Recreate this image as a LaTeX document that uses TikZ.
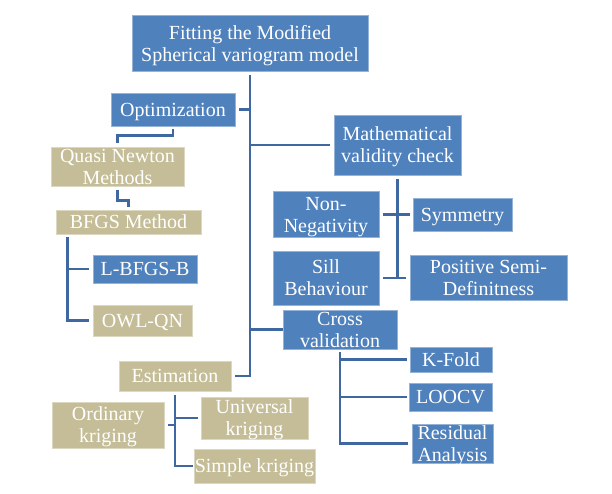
\documentclass[tikz,border=0pt]{standalone}
\usepackage{fontspec}
\setmainfont{Liberation Serif}
\definecolor{bluebox}{RGB}{79,129,189}
\definecolor{tanbox}{RGB}{196,189,151}
\definecolor{linkc}{RGB}{63,104,160}
\begin{document}
\begin{tikzpicture}[x=1pt,y=-1pt,
  base/.style={rectangle,inner sep=0pt,align=center,text=white,text depth=0pt,
    font=\fontsize{20}{22}\selectfont,line width=0.8pt},
  bb/.style={base,fill=bluebox,draw=bluebox!60!white},
  tb/.style={base,fill=tanbox,draw=tanbox!60!white},
  link/.style={draw=linkc,line width=2.8pt}]
\useasboundingbox (0,0) rectangle (612,493);
\fill[white] (0,0) rectangle (612,493);
% nodes
\node[bb,minimum width=236pt,minimum height=56pt] (main) at (250,43) {Fitting the Modified\\Spherical variogram model};
\node[bb,minimum width=124pt,minimum height=33pt] (opt) at (173,109.5) {Optimization};
\node[tb,minimum width=133pt,minimum height=39pt] (quasi) at (117.5,166.5) {Quasi Newton\\Methods};
\node[tb,minimum width=145pt,minimum height=24pt] (bfgs) at (128.5,222) {BFGS Method};
\node[bb,minimum width=104pt,minimum height=28pt] (lbfgsb) at (145,269) {L-BFGS-B};
\node[tb,minimum width=99pt,minimum height=31pt] (owl) at (142.5,320.5) {OWL-QN};
\node[tb,minimum width=112pt,minimum height=30pt] (est) at (175,376) {Estimation};
\node[tb,minimum width=112pt,minimum height=46pt] (ord) at (108,425) {Ordinary\\kriging};
\node[tb,minimum width=107pt,minimum height=42pt] (univ) at (254.5,418) {Universal\\kriging};
\node[tb,minimum width=121pt,minimum height=34pt] (simple) at (254.5,466) {Simple kriging};
\node[bb,minimum width=127pt,minimum height=60pt] (math) at (397.5,145) {Mathematical\\validity check};
\node[bb,minimum width=106pt,minimum height=46pt] (nonneg) at (326,214.5) {Non-\\Negativity};
\node[bb,minimum width=99pt,minimum height=33pt] (sym) at (462.5,214.5) {Symmetry};
\node[bb,minimum width=106pt,minimum height=54pt] (sill) at (326,278) {Sill\\Behaviour};
\node[bb,minimum width=157pt,minimum height=45pt] (psd) at (488.5,278) {Positive Semi-\\Definitness};
\node[bb,minimum width=114pt,minimum height=39pt] (cross) at (340,329.5) {Cross\\validation};
\node[bb,minimum width=82pt,minimum height=25pt] (kfold) at (451,359.5) {K-Fold};
\node[bb,minimum width=83pt,minimum height=28pt] (loocv) at (450.5,397) {LOOCV};
\node[bb,minimum width=81pt,minimum height=39pt] (resid) at (452.5,443.5) {Residual\\Analysis};
% trunk
\draw[link] ([yshift=-4pt]main.south) |- ([xshift=4pt]est.east);
\draw[link] ([xshift=4pt]opt.east) -- (opt.east -| main.south);
\draw[link] (math.west -| main.south) -- ([xshift=-4pt]math.west);
\draw[link] (cross.west -| main.south) -- (cross.west);
% optimization branch
\draw[link] ([yshift=-3pt]opt.south) -- ++(0,6) -| ([yshift=4pt]quasi.north);
\draw[link] ([yshift=-4pt]quasi.south) -- ++(0,10) -| ([yshift=3pt]bfgs.north);
\draw[link] ([xshift=12pt,yshift=-3pt]bfgs.south west) |- ([xshift=-4pt]owl.west);
\draw[link] ([xshift=12pt]bfgs.south west |- lbfgsb.west) -- ([xshift=-4pt]lbfgsb.west);
% estimation branch
\draw[link] ([yshift=-4pt]est.south) |- ([xshift=-1pt]simple.west);
\draw[link] (est.south |- univ.west) -- ([xshift=-3pt]univ.west);
\draw[link] ([xshift=4pt]ord.east) -- (ord.east -| est.south);
% math branch
\draw[link] ([yshift=-4pt]math.south) -- (math.south |- sill.east);
\draw[link] ([xshift=4pt]nonneg.east) -- ([xshift=-3pt]sym.west);
\draw[link] ([xshift=4pt]sill.east) -- ([xshift=-4pt]psd.west);
% cross branch
\draw[link] ([yshift=-3pt]cross.south) |- ([xshift=-4pt]resid.west);
\draw[link] (cross.south |- kfold.west) -- ([xshift=-3pt]kfold.west);
\draw[link] (cross.south |- loocv.west) -- ([xshift=-2pt]loocv.west);
\end{tikzpicture}
\end{document}
